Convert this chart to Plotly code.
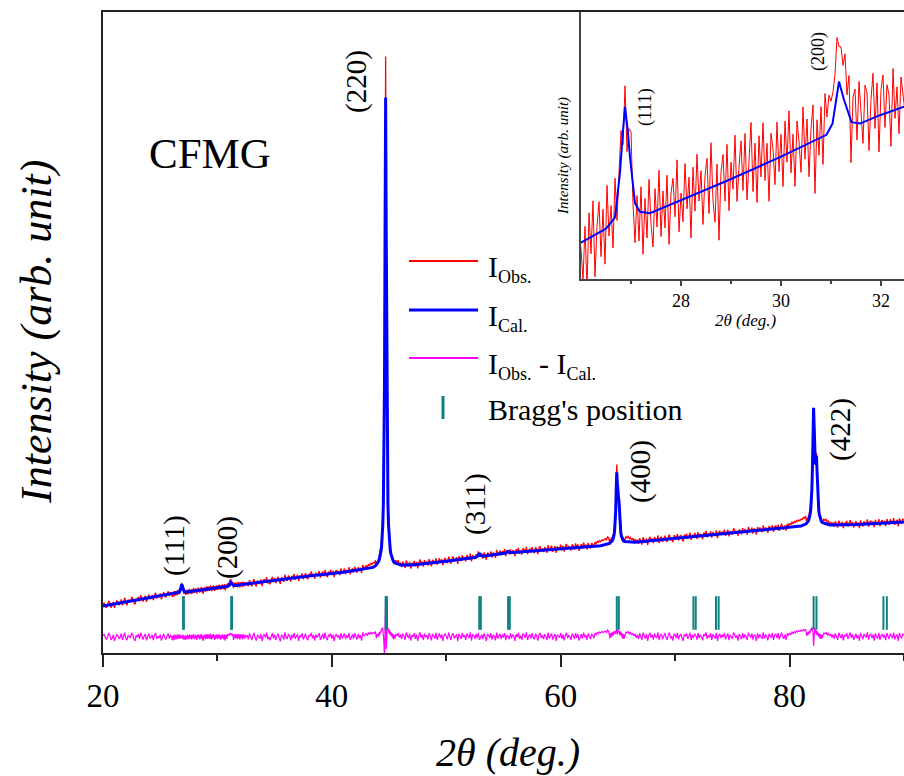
import numpy as np
import plotly.graph_objects as go

# ---------------------------------------------------------------------------
# Calculated (Rietveld) profile: 2θ (deg) and intensity (counts)
# ---------------------------------------------------------------------------
cal_knot_tth = [20.0, 22.0, 24.0, 26.0, 26.25, 26.5, 26.68, 26.78, 26.84, 26.88,
                26.93, 26.98, 27.08, 27.18, 27.38, 27.98, 28.91, 29.98, 30.91, 31.03,
                31.08, 31.16, 31.26, 31.41, 31.58, 31.98, 32.46, 35.0, 38.0, 41.0,
                43.0, 43.6, 46.0, 47.0, 50.0, 52.6, 52.8, 52.9, 53.0, 53.2,
                55.2, 55.4, 55.6, 60.0, 63.5, 66.5, 70.4, 74.0, 79.0, 81.0,
                83.5, 86.0, 90.0]
cal_knot_int = [470, 510, 550, 590, 595, 600, 608, 640, 670, 687,
                672, 651, 618, 612, 611, 620, 634, 651, 667, 675,
                688, 705, 692, 676, 675, 681, 687, 725, 770, 808,
                840, 856, 879, 881, 918, 958, 975, 1000, 975, 968,
                1000, 1015, 1003, 1045, 1073, 1108, 1150, 1190, 1245, 1269,
                1280, 1285, 1310]

# strong reflections sampled at 0.05 deg: (start, step, values)
cal_220 = (43.85, 0.05, [875, 882, 888, 897, 906, 919, 936, 956, 983, 1021,
                         1074, 1154, 1279, 1492, 1886, 2682, 4232, 5555, 4234, 2684,
                         1890, 1498, 1285, 1162, 1084, 1031, 995, 970, 950, 935,
                         924, 915, 908, 902])
cal_400 = (64.25, 0.05, [1095, 1099, 1102, 1107, 1113, 1121, 1133, 1148, 1173, 1211,
                         1281, 1409, 1630, 1806, 1693, 1563, 1556, 1510, 1368, 1262,
                         1202, 1169, 1149, 1136, 1127, 1122, 1118, 1114])
cal_422 = (81.45, 0.05, [1291, 1297, 1303, 1312, 1322, 1338, 1359, 1389, 1435, 1510,
                         1636, 1860, 2208, 2453, 2265, 1992, 1885, 1932, 1975, 1822,
                         1628, 1502, 1429, 1385, 1356, 1337, 1325, 1315, 1307, 1302])

# ---------------------------------------------------------------------------
# Residuals I_obs - I_cal on the measurement grid: (start, step, values)
# ---------------------------------------------------------------------------
res_a = (20.0, 0.1, [12, 30, -8, -25, 5, 40, 18, -30, -12, 22,
                     -38, 8, 26, 14, -20, -5, 35, -28, 10, 44,
                     -15, -32, 20, 6, -10, 38, 24, -22, -40, 16,
                     2, 30, -18, 42, -6, -26, 12, 28, -34, 4,
                     36, -14, -2, 22, -30, 18, 40, -20, 8, -12,
                     26, -36, 14, 32, -8, -24, 10, 34, -16, 20,
                     -4])
res_b = (26.04, 0.04, [-28, 10, -35, 18, -12, 25, -30, 5, 22, -18,
                       15, -25, 30, -8, 12, -20, 28, -15, 6, 20,
                       -10, 15, -20, 12, 25, -14, -28, 8, -22, 18,
                       -30, 10, -18, 24, -8, -25, 16, -12, 28, -20,
                       12, -15, 22, -28, 8, 18, -10, 30, -22, 5,
                       -16, 25, -8, 14, -30, 20, -12, 28, -6, 15,
                       -24, 10, 22, -18, 32, -10, -26, 15, -40, 8,
                       20, -14, 26, -22, 12, -8, 30, -18, 6, 24,
                       -12, 28, -20, 10, 34, -16, 18, -25, 22, -8,
                       30, -12, 14, -28, 20, 8, -18, 26, -10, 16,
                       -22, 24, -6, 30, -15, 12, -26, 20, 5, -18,
                       28, -10, 18, -24, 10, 26, -38, 14, -12, 22,
                       -20, 30, 12, 25, 18, 20, 22, 40, 25, 30,
                       22, 35, 10, 28, -30, 18, 24, -12, 30, 8,
                       -15, 26, 20, -22, 14, 32, -8, 24, -26, 18,
                       28, -10, 20, 12, -25, 30, -6, 16, -18, 22,
                       10, -4])
res_c = (32.6, 0.1, [18, -24, 36, 4, -30, 14, 40, -10, -36, 22,
                     8, -18, 30, -40, 12, 26, -6, 44, -22, 2,
                     -32, 16, 38, -14, 24, -28, 6, 34, -12, -42,
                     20, 10, -26, 46, -4, -20, 30, 14, -34, 24,
                     -8, 40, -18, 4, 28, -38, 16, -2, 36, -24,
                     10, 32, -16, -30, 22, 6, 42, -12, 18, -36,
                     26, -6, 14, 38, -28, 2, 30, -20, 44, -10,
                     -32, 20, 8, 36, -16, 24, -40, 12, 28, -4,
                     16, -26, 40, -14, 6, 34, -22, 18, -8, 42,
                     -30, 12, 26, -18, 38, 4, -24, 30, -12, 20,
                     -36, 46, 8, 22, 34, 14, 40, 28, 50, 30,
                     45, 35, 55])
res_d = (43.85, 0.05, [20, -15, 30, 10, 35, 5, 50, 25, 60, 45,
                       85, 70, 95, 40, -60, -230, 200, 410, -120, 90,
                       120, 70, 85, 35, 70, 20, 50, 5, 40, -10,
                       30, -25, 20, -15])
res_e = (45.6, 0.1, [30, 10, 40, -5, 25, -20, 35, 8, -28, 44,
                     16, -12, 32, -36, 20, 4, 38, -18, 26, -40,
                     12, 46, -8, 22, -30, 34, -2, 18, -24, 40,
                     6, -34, 28, 14, -16, 42, -26, 10, 36, -10,
                     24, -38, 16, 30, -6, -22, 44, 2, -32, 20,
                     38, -14, 8, 26, -42, 32, 12, -20, 40, -4,
                     18, -28, 34, 6, -12, 46, -36, 22, 14, -18,
                     30, -8, 42, -30, 10, 24, -24, 36, 2, -40,
                     28, 16, -10, 38, -26, 20, 8, -34, 44, -14,
                     12, 32, -20, 26, -6, 40, -32, 18, 4, -22,
                     36, -12, 24, 10, -38, 30, -2, 42, -18, 14,
                     -28, 34, 20, -8, 46, -30, 6, 26, -16, 38,
                     -4, -24, 32, 12, -36, 22, 40, -10, 16, -20,
                     28, 8, -32, 44, -14, 18, 36, -26, 2, 30,
                     -40, 24, 10, -6, 38, -18, 26, -34, 14, 42,
                     -12, 20, 4, -28, 34, 16, -22, 40, -8, 30,
                     -36, 12, 28, -16, 44, -2, 22, -30, 36, 6,
                     -20, 32, 18, -10, 40, 24, 46, 35, 50, 40,
                     55, 45, 50, 60, 45, 70, 55])
res_f = (64.25, 0.05, [30, -15, 40, -5, 45, 10, 50, 15, 60, 35,
                       55, 30, 65, 80, 25, 70, 45, 60, 20, 55,
                       15, 45, -5, 35, -20, 30, -15, 10])
res_g = (65.7, 0.1, [50, 40, 55, 30, 45, 20, 38, 10, 30, -8,
                     24, -20, 36, 6, -30, 42, 14, -16, 28, -38,
                     18, 40, -6, 22, -26, 34, 4, -12, 46, -32,
                     16, 30, -22, 10, 38, -2, -28, 24, 44, -14,
                     8, -36, 32, 20, -10, 42, -24, 14, 28, -4,
                     -40, 26, 12, 36, -18, 6, 44, -30, 20, -8,
                     34, 16, -26, 40, -12, 22, 2, -34, 30, 10,
                     46, -20, 18, -6, 38, -28, 26, 8, -16, 42,
                     -38, 14, 32, -10, 24, -2, 40, -24, 12, 36,
                     -32, 20, 4, -18, 44, 28, -8, 16, -36, 30,
                     10, -22, 38, -14, 26, 6, -30, 42, 18, -4,
                     34, -26, 22, 12, -40, 36, -10, 28, 2, -20,
                     46, -16, 24, 8, -34, 32, 14, -6, 40, -28,
                     20, 30, -12, 38, -24, 10, 44, 4, -18, 26,
                     -30, 36, 16, 40, 22, 48, 34, 55, 40, 60,
                     50, 65, 55, 70, 60, 75, 65, 80])
res_h = (81.45, 0.05, [35, 10, 45, 20, 55, 30, 60, 40, 80, 65,
                       100, 75, 40, -90, 60, 95, 45, 70, 20, 60,
                       15, 45, 0, 35, -15, 30, -20, 25, -10, 15])
res_i = (83.0, 0.1, [40, 30, 45, 20, 35, 10, 30, -5, 25, -18,
                     36, 8, -28, 42, 14, -12, 30, -34, 22, 4,
                     38, -20, 16, 44, -8, 26, -30, 10, 34, -14,
                     20, -38, 40, 6, -22, 28, 12, -4, 46, -26,
                     18, 32, -10, 24, -36, 36, 2, -16, 42, -28,
                     14, 30, -6, 22, -32, 40, 8, -20, 34, 16,
                     -12, 44, -24, 10, 26, -40, 38, 4, -14, 30,
                     20])

# Bragg reflections (Cu Kα1 and Kα2 positions)
bragg_ka1 = [27.0, 31.2, 44.7, 52.88, 55.4, 64.9, 71.6, 73.57, 82.1, 88.2]
bragg_ka2 = [27.07, 31.28, 44.82, 53.02, 55.55, 65.08, 71.8, 73.8, 82.35, 88.5]

DIFF_OFFSET = 160     # vertical offset of the difference curve (counts)
BRAGG_LEVEL = 400     # level of the Bragg tick row (counts)


def expand(seg):
    start, step, vals = seg
    x = start + step * np.arange(len(vals))
    return np.round(x, 4), np.asarray(vals, dtype=float)


# assemble the calculated profile
parts = [(np.asarray(cal_knot_tth), np.asarray(cal_knot_int, dtype=float))]
parts += [expand(s) for s in (cal_220, cal_400, cal_422)]
cal_tth = np.concatenate([p[0] for p in parts])
cal_int = np.concatenate([p[1] for p in parts])
order = np.argsort(cal_tth)
cal_tth, cal_int = cal_tth[order], cal_int[order]

# measurement grid and residuals
segs = [expand(s) for s in (res_a, res_b, res_c, res_d, res_e, res_f, res_g, res_h, res_i)]
obs_tth = np.concatenate([s[0] for s in segs])
resid = np.concatenate([s[1] for s in segs])
order = np.argsort(obs_tth, kind="stable")
obs_tth, resid = obs_tth[order], resid[order]
obs_int = np.interp(obs_tth, cal_tth, cal_int) + resid
diff_int = resid + DIFF_OFFSET

# ---------------------------------------------------------------------------
# Figure
# ---------------------------------------------------------------------------
SERIF = "Liberation Serif, Times New Roman, serif"
RED, BLUE, MAGENTA, TEAL = "#ff0000", "#0000ff", "#ff00ff", "#118080"
W, H = 904, 776
L, R, T, B = 103, 0, 12, 123
PW, PH = W - L - R, H - T - B


def px(x):
    return (x - L) / PW


def py(y):
    return (H - B - y) / PH


fig = go.Figure()

# main panel
fig.add_trace(go.Scatter(x=obs_tth, y=obs_int, mode="lines",
                         line=dict(color=RED, width=1.3), xaxis="x", yaxis="y"))
fig.add_trace(go.Scatter(x=cal_tth, y=cal_int, mode="lines",
                         line=dict(color=BLUE, width=3), xaxis="x", yaxis="y"))
fig.add_trace(go.Scatter(x=obs_tth, y=diff_int, mode="lines",
                         line=dict(color=MAGENTA, width=1.2), xaxis="x", yaxis="y"))
bragg_all = bragg_ka1 + bragg_ka2
fig.add_trace(go.Scatter(x=bragg_all, y=[BRAGG_LEVEL] * len(bragg_all), mode="markers",
                         marker=dict(symbol="line-ns", size=24,
                                     line=dict(color=TEAL, width=2)),
                         xaxis="x", yaxis="y"))

# inset panel (low-angle superlattice reflections)
fig.add_trace(go.Scatter(x=obs_tth, y=obs_int, mode="lines",
                         line=dict(color=RED, width=1), xaxis="x2", yaxis="y2"))
fig.add_trace(go.Scatter(x=cal_tth, y=cal_int, mode="lines",
                         line=dict(color=BLUE, width=2), xaxis="x2", yaxis="y2"))

AX = "#222222"
fig.update_layout(
    width=W, height=H,
    margin=dict(l=L, r=R, t=T, b=B, pad=0),
    paper_bgcolor="white", plot_bgcolor="white",
    showlegend=False, hovermode=False,
    font=dict(family=SERIF, color="black"),
    xaxis=dict(domain=[0, 1], range=[20, 90], anchor="y",
               tickvals=[20, 40, 60, 80], ticks="outside", ticklen=12, tickwidth=2,
               tickcolor=AX, tickfont=dict(family=SERIF, size=33, color="black"),
               minor=dict(tickvals=[30, 50, 70, 90], ticks="outside", ticklen=6,
                          tickwidth=2, tickcolor=AX),
               showline=True, linewidth=2, linecolor=AX, mirror=True,
               showgrid=False, zeroline=False),
    yaxis=dict(domain=[0, 1], range=[0, 6410], anchor="x",
               showticklabels=False, ticks="", showline=True, linewidth=2,
               linecolor=AX, showgrid=False, zeroline=False),
    xaxis2=dict(domain=[px(581), 1], range=[26, 32.46], anchor="y2",
                tickvals=[28, 30, 32], ticks="outside", ticklen=5, tickwidth=1.5,
                tickcolor="#444", tickfont=dict(family=SERIF, size=18, color="black"),
                minor=dict(tickvals=[27, 29, 31], ticks="outside", ticklen=3,
                           tickwidth=1.5, tickcolor="#444"),
                showline=True, linewidth=1.5, linecolor="#444",
                showgrid=False, zeroline=False),
    yaxis2=dict(domain=[py(279), 1], range=[564, 754.7], anchor="x2",
                showticklabels=False, ticks="", showline=True, linewidth=1.5,
                linecolor="#444", showgrid=False, zeroline=False),
)

ann = []


def text(x, y, s, size, angle=0, italic=False, xanchor="center"):
    if italic:
        s = "<i>" + s + "</i>"
    ann.append(dict(x=px(x), y=py(y), xref="paper", yref="paper", text=s,
                    showarrow=False, textangle=angle, xanchor=xanchor,
                    yanchor="middle", font=dict(family=SERIF, size=size, color="black")))


# axis titles
text(508, 752, "2θ (deg.)", 40, italic=True)
text(36, 332, "Intensity (arb. unit)", 44, angle=-90, italic=True)
text(746, 321, "2θ (deg.)", 17, italic=True)
text(563, 156, "Intensity (arb. unit)", 15, angle=-90, italic=True)

# sample name and reflection indices
text(210, 153, "CFMG", 43)
text(356, 82, "(220)", 29, angle=-90)
text(174, 546, "(111)", 29, angle=-90)
text(227, 548, "(200)", 29, angle=-90)
text(475, 504, "(311)", 29, angle=-90)
text(640, 472, "(400)", 29, angle=-90)
text(841, 430, "(422)", 29, angle=-90)
text(645, 107, "(111)", 18, angle=-90)
text(819, 52, "(200)", 18, angle=-90)

# legend
SUB = '<sub><span style="font-size:18px">{}</span></sub>'
text(486, 268, "I" + SUB.format("Obs."), 30, xanchor="left")
text(486, 318, "I" + SUB.format("Cal."), 30, xanchor="left")
text(486, 366, "I" + SUB.format("Obs.") + " - I" + SUB.format("Cal."), 30, xanchor="left")
text(486, 409, "Bragg's position", 30, xanchor="left")

shapes = [
    dict(type="line", xref="paper", yref="paper", x0=px(409), x1=px(478),
         y0=py(261), y1=py(261), line=dict(color=RED, width=2)),
    dict(type="line", xref="paper", yref="paper", x0=px(409), x1=px(478),
         y0=py(310), y1=py(310), line=dict(color=BLUE, width=3)),
    dict(type="line", xref="paper", yref="paper", x0=px(409), x1=px(478),
         y0=py(358), y1=py(358), line=dict(color=MAGENTA, width=2)),
    dict(type="line", xref="paper", yref="paper", x0=px(443), x1=px(443),
         y0=py(396), y1=py(419), line=dict(color=TEAL, width=3)),
]

fig.update_layout(annotations=ann, shapes=shapes)

fig.write_html("out.html", config={"displayModeBar": False})
